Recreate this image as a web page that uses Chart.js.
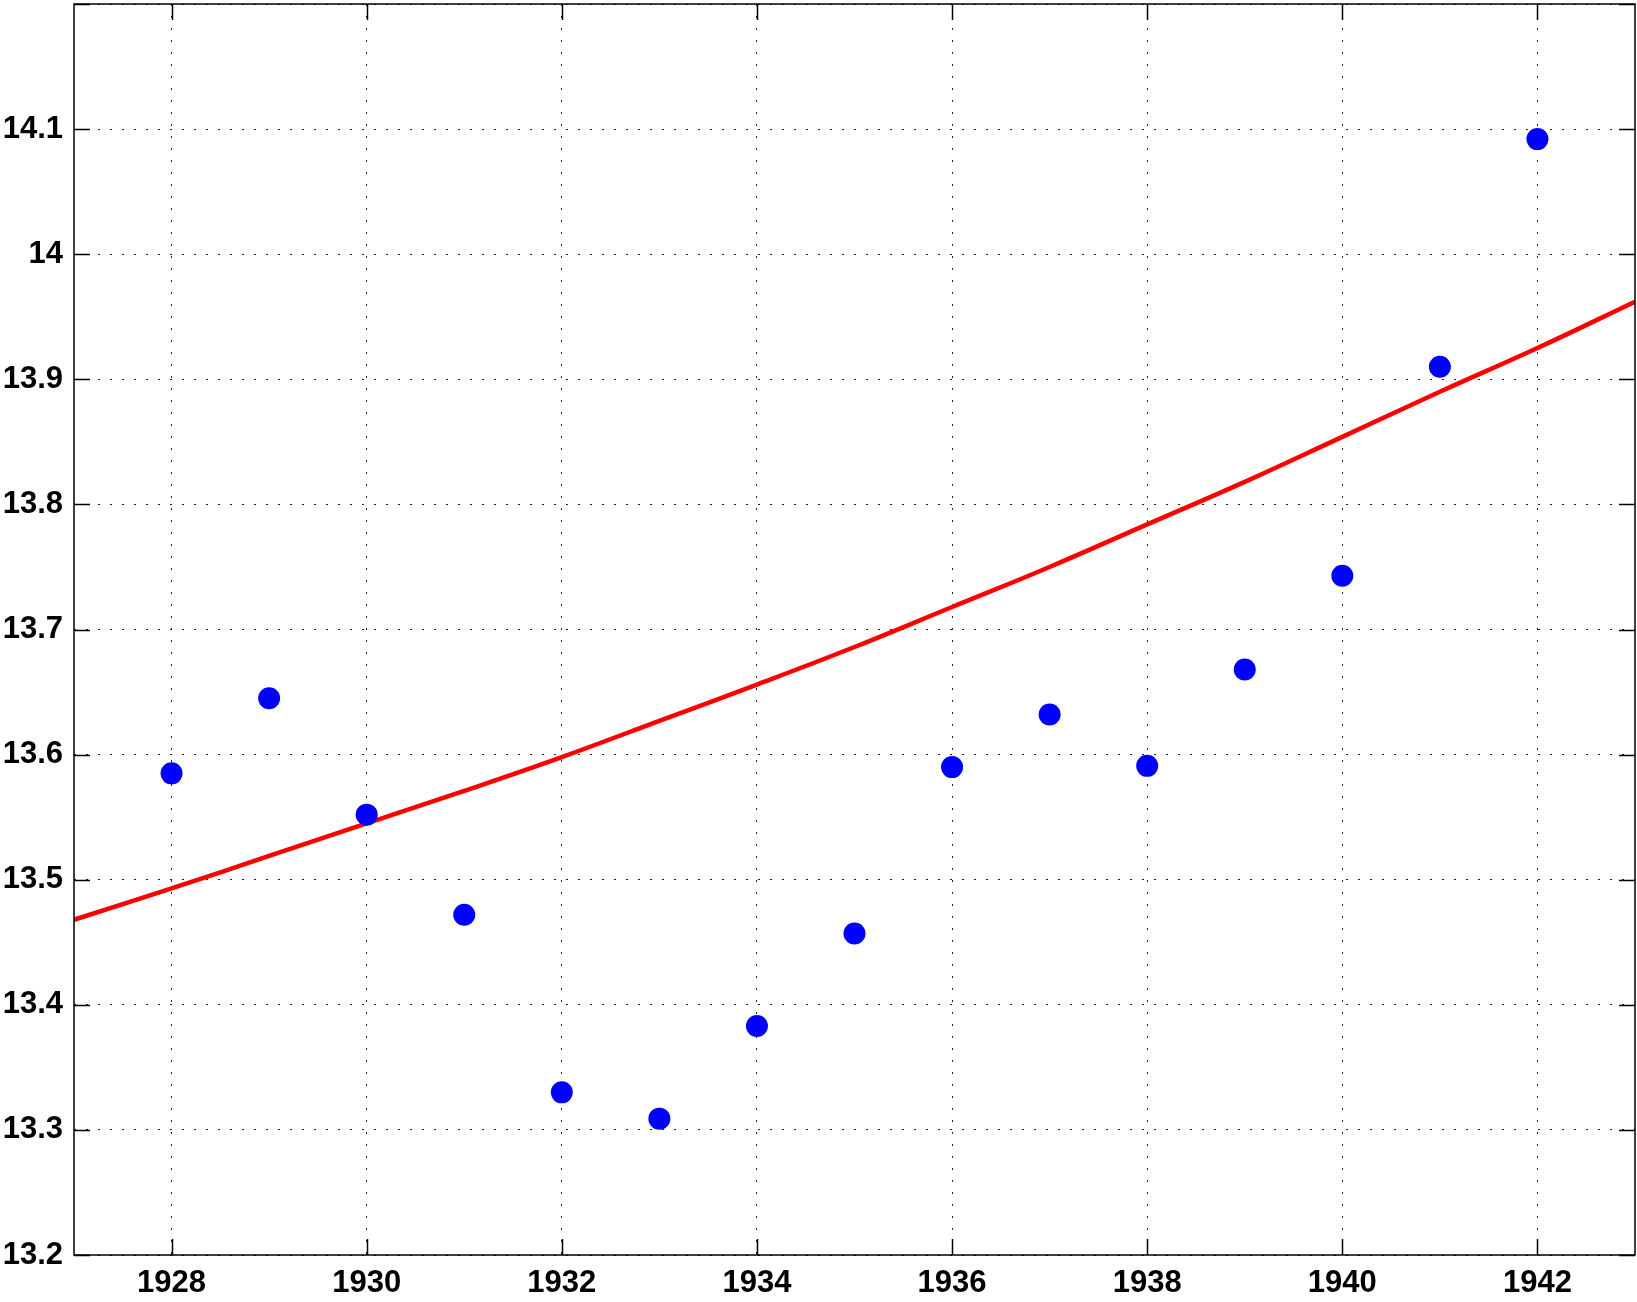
<!DOCTYPE html>
<html>
<head>
<meta charset="utf-8">
<script src="https://cdn.jsdelivr.net/npm/chart.js@4/dist/chart.umd.min.js"></script>
<style>
  html, body { margin: 0; padding: 0; background: #fff; overflow: hidden; }
  #wrap { position: relative; width: 1637px; height: 1302px; }
  #wrap canvas { display: block; }
</style>
</head>
<body>
<div id="wrap"><canvas id="fitChart"></canvas></div>
<script>
// observed yearly values (dots)
const years = [1928, 1929, 1930, 1931, 1932, 1933, 1934, 1935, 1936, 1937, 1938, 1939, 1940, 1941, 1942];
const temps = [13.585, 13.645, 13.552, 13.472, 13.330, 13.309, 13.383, 13.457, 13.590, 13.632, 13.591, 13.668, 13.743, 13.910, 14.092];

// fitted curve (red line), read at each year
const fitYears = [1927, 1928, 1929, 1930, 1931, 1932, 1933, 1934, 1935, 1936, 1937, 1938, 1939, 1940, 1941, 1942, 1943];
const fitValues = [13.468, 13.493, 13.519, 13.545, 13.571, 13.598, 13.627, 13.656, 13.686, 13.718, 13.750, 13.784, 13.818, 13.854, 13.890, 13.925, 13.962];

// axis ticks
const xTicks = [1928, 1930, 1932, 1934, 1936, 1938, 1940, 1942];
const yTicks = [13.2, 13.3, 13.4, 13.5, 13.6, 13.7, 13.8, 13.9, 14, 14.1, 14.2];

const tickFont = { family: "'Liberation Sans', Arial, Helvetica, sans-serif", size: 31, weight: "bold" };

// box around the plot with short inward tick marks on all four sides
const framePlugin = {
  id: "frame",
  afterDraw(chart) {
    const { ctx, chartArea: a, scales: { x, y } } = chart;
    const len = 16;
    ctx.save();
    ctx.strokeStyle = "#000";
    ctx.lineWidth = 1.5;
    ctx.strokeRect(a.left, a.top, a.right - a.left, a.bottom - a.top);
    ctx.beginPath();
    xTicks.forEach(v => {
      const px = Math.round(x.getPixelForValue(v)) + 0.5;
      ctx.moveTo(px, a.bottom); ctx.lineTo(px, a.bottom - len);
      ctx.moveTo(px, a.top); ctx.lineTo(px, a.top + len);
    });
    yTicks.forEach(v => {
      const py = Math.round(y.getPixelForValue(v)) + 0.5;
      ctx.moveTo(a.left, py); ctx.lineTo(a.left + len, py);
      ctx.moveTo(a.right, py); ctx.lineTo(a.right - len, py);
    });
    ctx.stroke();
    ctx.restore();
  }
};

new Chart(document.getElementById("fitChart"), {
  type: "scatter",
  data: {
    datasets: [
      {
        label: "Fit",
        type: "line",
        data: fitYears.map((yr, i) => ({ x: yr, y: fitValues[i] })),
        borderColor: "#ff0000",
        borderWidth: 4.5,
        pointRadius: 0,
        tension: 0.4,
        fill: false,
        order: 2
      },
      {
        label: "Observed",
        data: years.map((yr, i) => ({ x: yr, y: temps[i] })),
        backgroundColor: "#0000ff",
        borderColor: "#0000ff",
        borderWidth: 0,
        pointRadius: 11,
        order: 1
      }
    ]
  },
  options: {
    responsive: true,
    maintainAspectRatio: false,
    animation: false,
    layout: { autoPadding: false, padding: { left: 0, right: 2, top: 4, bottom: 0 } },
    plugins: { legend: { display: false }, tooltip: { enabled: false } },
    scales: {
      x: {
        type: "linear",
        min: 1927,
        max: 1943,
        afterBuildTicks: s => { s.ticks = xTicks.map(v => ({ value: v })); },
        afterFit: s => { s.height = 47; s.paddingLeft = 0; s.paddingRight = 0; },
        grid: { color: "#222", lineWidth: 1, drawTicks: false },
        border: { display: false, dash: [2, 10] },
        ticks: { font: tickFont, color: "#000", padding: 10, maxRotation: 0, callback: v => String(v) }
      },
      y: {
        min: 13.2,
        max: 14.2,
        afterBuildTicks: s => { s.ticks = yTicks.map(v => ({ value: v })); },
        afterFit: s => { s.width = 74; s.paddingTop = 0; s.paddingBottom = 0; },
        grid: { color: "#222", lineWidth: 1, drawTicks: false },
        border: { display: false, dash: [2, 10] },
        ticks: {
          font: tickFont,
          color: "#000",
          padding: 11,
          callback: v => (v >= 14.2 ? "" : String(v))
        }
      }
    }
  },
  plugins: [framePlugin]
});
</script>
</body>
</html>
